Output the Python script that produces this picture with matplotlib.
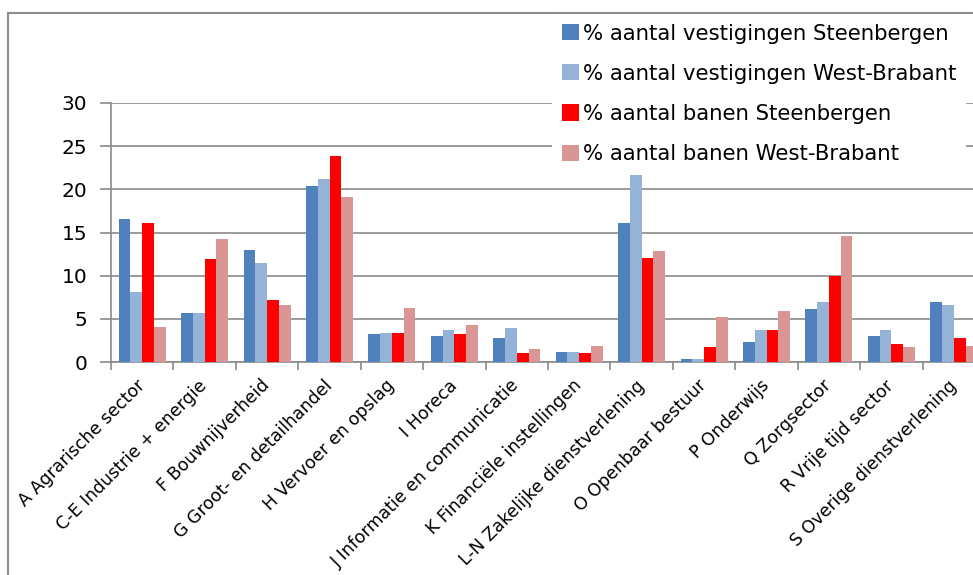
"""
Vestigingen en banen per sector, Steenbergen vs West-Brabant.
"""

import numpy as np
import matplotlib.pyplot as plt
from matplotlib.patches import Rectangle

sectors = [
    "A Agrarische sector",
    "C-E Industrie + energie",
    "F Bouwnijverheid",
    "G Groot- en detailhandel",
    "H Vervoer en opslag",
    "I Horeca",
    "J Informatie en communicatie",
    "K Financiële instellingen",
    "L-N Zakelijke dienstverlening",
    "O Openbaar bestuur",
    "P Onderwijs",
    "Q Zorgsector",
    "R Vrije tijd sector",
    "S Overige dienstverlening",
]

vestigingen_steenbergen = [16.6, 5.7, 13.0, 20.4, 3.2, 3.0, 2.8, 1.2, 16.1, 0.3, 2.3, 6.1, 3.0, 7.0]
vestigingen_westbrabant = [8.1, 5.7, 11.5, 21.2, 3.4, 3.7, 3.9, 1.2, 21.7, 0.3, 3.7, 7.0, 3.7, 6.6]
banen_steenbergen = [16.1, 11.9, 7.2, 23.9, 3.4, 3.2, 1.0, 1.0, 12.1, 1.7, 3.7, 9.95, 2.1, 2.8]
banen_westbrabant = [4.1, 14.3, 6.6, 19.1, 6.3, 4.3, 1.5, 1.9, 12.8, 5.2, 5.9, 14.6, 1.7, 1.85]

series_labels = [
    "% aantal vestigingen Steenbergen",
    "% aantal vestigingen West-Brabant",
    "% aantal banen Steenbergen",
    "% aantal banen West-Brabant",
]
series_colors = ["#4F81BD", "#95B3D7", "#FF0000", "#D99694"]
yticks = [0, 5, 10, 15, 20, 25, 30]


def main():
    plt.rcParams["font.family"] = ["DejaVu Sans"]
    fig = plt.figure(figsize=(9.73, 5.75), dpi=100)
    ax = fig.add_axes([111 / 973, 213 / 575, 874 / 973, 259 / 575])

    # outer chart frame (left and top edges visible)
    fig.patches.append(Rectangle((8 / 973, -0.1), 1.2, 1.1 - 13 / 575,
                                 transform=fig.transFigure, fill=False,
                                 edgecolor="#8c8c8c", linewidth=1.5))

    data = [vestigingen_steenbergen, vestigingen_westbrabant,
            banen_steenbergen, banen_westbrabant]
    x = np.arange(len(sectors))
    width = 0.188
    for i, vals in enumerate(data):
        ax.bar(x + (i - 1.5) * width, vals, width, color=series_colors[i],
               label=series_labels[i], zorder=3)

    ax.set_xlim(-0.5, len(sectors) - 0.5)
    ax.set_ylim(0, 30)
    ax.set_yticks(yticks)
    ax.yaxis.grid(True, color="#8a8a8a", linewidth=1.2, zorder=0)
    ax.set_axisbelow(True)

    for side in ["top", "right"]:
        ax.spines[side].set_visible(False)
    for side in ["left", "bottom"]:
        ax.spines[side].set_color("#8a8a8a")
        ax.spines[side].set_linewidth(1.2)

    ax.tick_params(axis="y", length=8, width=1.2, color="#8a8a8a",
                   labelsize=14.5, pad=9)
    ax.set_xticks(np.arange(len(sectors) + 1) - 0.5)
    ax.set_xticklabels([])
    ax.tick_params(axis="x", length=6, width=1.2, color="#8a8a8a")
    ax.set_xticks(x, minor=True)
    ax.set_xticklabels(sectors, minor=True, rotation=45, ha="right",
                       va="center", rotation_mode="anchor", fontsize=12.5)
    ax.tick_params(axis="x", which="minor", length=0, pad=15)

    handles, labels = ax.get_legend_handles_labels()
    leg = fig.legend(handles, labels, loc="upper left",
                     bbox_to_anchor=(552 / 973, 1 - 14 / 575),
                     fontsize=15.3, frameon=True, fancybox=False,
                     handlelength=0.8, handleheight=0.8, handletextpad=0.2,
                     labelspacing=0.95, borderaxespad=0, borderpad=0.45)
    leg.get_frame().set_facecolor("white")
    leg.get_frame().set_edgecolor("none")
    leg.get_frame().set_alpha(1)

    fig.savefig("out.png", dpi=100)


if __name__ == "__main__":
    main()
